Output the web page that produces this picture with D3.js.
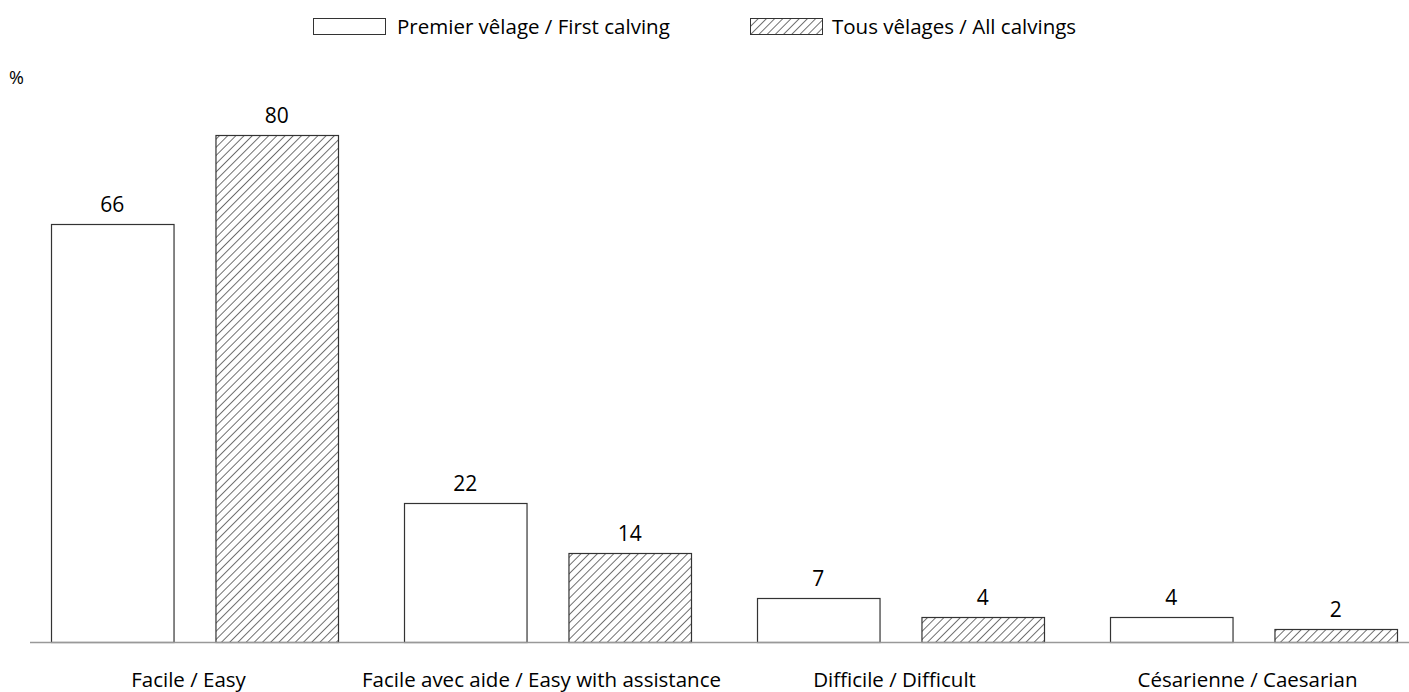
<!DOCTYPE html>
<html>
<head>
<meta charset="utf-8">
<script src="https://cdn.jsdelivr.net/npm/d3@7"></script>
<style>
  body { margin: 0; background: #fff; }
  text { font-family: "Open Sans", "Noto Sans", sans-serif; fill: #000; }
</style>
</head>
<body>
<div id="chart"></div>
<script>
// Chart data
const categories = ["Facile / Easy", "Facile avec aide / Easy with assistance", "Difficile / Difficult", "Césarienne / Caesarian"];
const seriesNames = ["Premier vêlage / First calving", "Tous vêlages / All calvings"];
const firstCalving = [66, 22, 7, 4];
const allCalvings = [80, 14, 4, 2];

const width = 1409;
const height = 692;
const baseline = 642;
const plotTop = 135;

const svg = d3.select("#chart")
    .append("svg")
    .attr("width", width)
    .attr("height", height);

// hatch pattern for the second series
const defs = svg.append("defs");
defs.append("pattern")
    .attr("id", "hatch")
    .attr("patternUnits", "userSpaceOnUse")
    .attr("width", 5.8)
    .attr("height", 5.8)
    .attr("patternTransform", "rotate(45)")
    .append("line")
    .attr("x1", 0).attr("y1", 0)
    .attr("x2", 0).attr("y2", 5.8)
    .style("stroke", "#111")
    .style("stroke-width", 1.2);

const fills = ["#fff", "url(#hatch)"];

const x0 = d3.scaleBand()
    .domain(categories)
    .range([18, 1430])
    .paddingInner(0.187)
    .paddingOuter(0.0935);

const x1 = d3.scaleBand()
    .domain(seriesNames)
    .range([0, x0.bandwidth()])
    .paddingInner(0.255);

const y = d3.scaleLinear()
    .domain([0, 80])
    .range([baseline, plotTop]);

const rows = categories.map(function(c, i) {
    return {
        category: c,
        values: [
            { series: seriesNames[0], value: firstCalving[i], k: 0 },
            { series: seriesNames[1], value: allCalvings[i], k: 1 }
        ]
    };
});

const groups = svg.selectAll("g.group")
    .data(rows)
    .enter()
    .append("g")
    .attr("class", "group")
    .attr("transform", function(d) { return "translate(" + x0(d.category) + ",0)"; });

groups.selectAll("rect")
    .data(function(d) { return d.values; })
    .enter()
    .append("rect")
    .attr("x", function(d) { return x1(d.series) + 0.5; })
    .attr("y", function(d) { return Math.round(y(d.value)) + 0.5; })
    .attr("width", x1.bandwidth())
    .attr("height", function(d) { return baseline - Math.round(y(d.value)); })
    .style("fill", function(d) { return fills[d.k]; })
    .style("stroke", "#333")
    .style("stroke-width", 1.2);

groups.selectAll("text.value")
    .data(function(d) { return d.values; })
    .enter()
    .append("text")
    .attr("class", "value")
    .attr("x", function(d) { return x1(d.series) + x1.bandwidth() / 2; })
    .attr("y", function(d) { return y(d.value) - 12; })
    .attr("text-anchor", "middle")
    .style("font-size", "21px")
    .text(function(d) { return d.value; });

// baseline
svg.append("line")
    .attr("x1", 30)
    .attr("x2", width)
    .attr("y1", baseline + 0.5)
    .attr("y2", baseline + 0.5)
    .style("stroke", "#999")
    .style("stroke-width", 1.5);

// category labels
svg.selectAll("text.cat")
    .data(categories)
    .enter()
    .append("text")
    .attr("class", "cat")
    .attr("x", function(d) { return x0(d) + x0.bandwidth() / 2 - 6; })
    .attr("y", 687)
    .attr("text-anchor", "middle")
    .style("font-size", "20.5px")
    .text(function(d) { return d; });

// unit
svg.append("text")
    .attr("x", 9)
    .attr("y", 84)
    .style("font-size", "18px")
    .text("%");

// legend
const legendX = [313, 750];
const legend = svg.selectAll("g.legend")
    .data(seriesNames)
    .enter()
    .append("g")
    .attr("class", "legend")
    .attr("transform", function(d, i) { return "translate(" + legendX[i] + ",18)"; });

legend.append("rect")
    .attr("x", 0.5)
    .attr("y", 0.5)
    .attr("width", 72)
    .attr("height", 16)
    .style("fill", function(d, i) { return fills[i]; })
    .style("stroke", "#333");

legend.append("text")
    .attr("x", function(d, i) { return i === 0 ? 84 : 82; })
    .attr("y", 16)
    .style("font-size", "20.5px")
    .text(function(d) { return d; });
</script>
</body>
</html>
